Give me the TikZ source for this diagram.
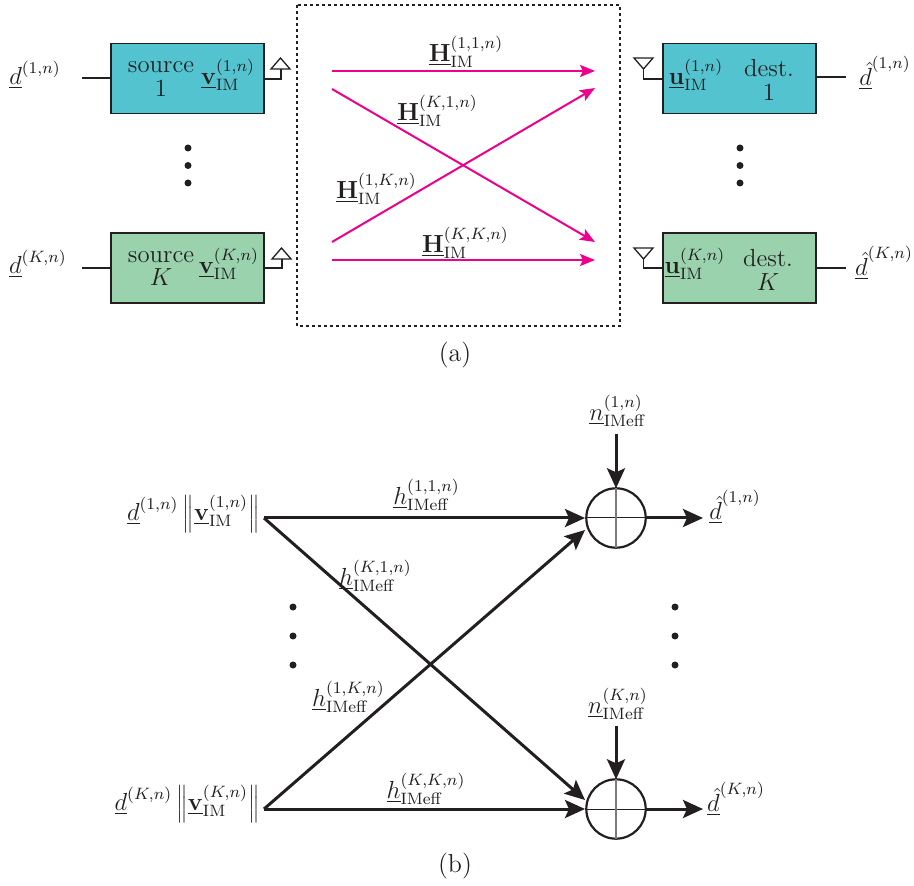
\documentclass[tikz,border=0pt,12pt]{standalone}
\usetikzlibrary{arrows.meta}
\definecolor{tealbox}{HTML}{53C4CF}
\definecolor{greenbox}{HTML}{99D2AC}
\definecolor{mag}{HTML}{EC008C}
\definecolor{ink}{HTML}{231F20}
\newcommand{\ul}[1]{\underline{#1}}
\newcommand{\bv}{\ul{\mathbf{v}}}
\newcommand{\bu}{\ul{\mathbf{u}}}
\newcommand{\bH}{\ul{\mathbf{H}}}
\newcommand{\hd}{\ul{\hat{d}}}
\tikzset{
  blockbox/.style={draw=ink,line width=0.8pt,minimum width=76.5pt,minimum height=35pt,inner sep=0,outer sep=0},
  wire/.style={draw=ink,line width=0.65pt},
  magarrow/.style={draw=mag,line width=1pt,-{Stealth[length=7.5pt,width=6pt,inset=1.5pt]}},
  bigarrow/.style={draw=ink,line width=1.5pt,-{Stealth[length=10pt,width=9pt,inset=2pt]}},
  label/.style={inner sep=0,outer sep=0,text=ink,scale=1.03},
  dotmark/.style={circle,fill=ink,inner sep=0,minimum size=3.5pt},
  adder/.style={circle,draw=ink,line width=1.1pt,minimum size=29.7pt,inner sep=0,outer sep=0}
}
\begin{document}
\begin{tikzpicture}[x=0.5pt,y=-0.5pt]
\useasboundingbox (0,0) rectangle (914,886);
% --- part (a) boxes
\node[blockbox,fill=tealbox]  (s1) at (187.5,78.5) {};
\node[blockbox,fill=greenbox] (sK) at (187.5,268) {};
\node[blockbox,fill=tealbox]  (r1) at (739.75,78.5) {};
\node[blockbox,fill=greenbox] (rK) at (739.75,268) {};
\node[label,align=center] at (161,79) {source\\[-3pt]1};
\node[label,align=center] at (161,268.5) {source\\[-3pt]$K$};
\node[label,align=center] at (769,80) {dest.\\[-3pt]1};
\node[label,align=center] at (768,270) {dest.\\[-3pt]$K$};
\node[label] at (228,75) {$\bv^{(1,n)}_{\mathrm{IM}}$};
\node[label] at (229,264) {$\bv^{(K,n)}_{\mathrm{IM}}$};
\node[label] at (696,75) {$\bu^{(1,n)}_{\mathrm{IM}}$};
\node[label] at (695,264) {$\bu^{(K,n)}_{\mathrm{IM}}$};
% --- terminals
\node[label] (d1) at (35,75) {$\ul{d}^{(1,n)}$};
\node[label] (dK) at (38,264) {$\ul{d}^{(K,n)}$};
\node[label] (e1) at (885,73) {$\hd^{(1,n)}$};
\node[label] (eK) at (884,263) {$\hd^{(K,n)}$};
\coordinate (i1) at (82,78);
\coordinate (iK) at (82,268);
\coordinate (o1) at (846,77);
\coordinate (oK) at (846,268);
\draw[wire] (i1) -- (i1 -| s1.west);
\draw[wire] (iK) -- (iK -| sK.west);
\draw[wire] (o1 -| r1.east) -- (o1);
\draw[wire] (oK -| rK.east) -- (oK);
% --- antennas
\coordinate (ta1) at (281,69);
\coordinate (taK) at (282,259);
\coordinate (ra1) at (643.5,69);
\coordinate (raK) at (643.5,259);
\draw[wire] (s1.east |- 0,79) -| (ta1);
\draw[wire] (sK.east |- 0,268) -| (taK);
\draw[wire] (r1.west |- 0,79) -| (ra1);
\draw[wire] (rK.west |- 0,268) -| (raK);
\draw[wire] (271,69) -- (280.5,58) -- (290,69) -- cycle;
\draw[wire] (272,259) -- (281.5,248) -- (291,259) -- cycle;
\draw[wire] (634,58) -- (643.5,69) -- (653,58) -- cycle;
\draw[wire] (634,248) -- (643.5,259) -- (653,248) -- cycle;
% --- dots
\foreach \x/\n in {188/a,740/b}{
  \node[dotmark] (\n1) at (\x,148) {};
  \node[dotmark] (\n2) at (\x,165.5) {};
  \node[dotmark] (\n3) at (\x,183) {};
}
% --- channel
\draw[draw=ink,line width=0.6pt,dash pattern=on 1.4pt off 1.6pt] (297,5) rectangle (620,326);
\coordinate (c11a) at (332,71);  \coordinate (c11b) at (595,71);
\coordinate (c21a) at (332,89);  \coordinate (c21b) at (595,242);
\coordinate (c12a) at (332,242); \coordinate (c12b) at (595,88);
\coordinate (c22a) at (332,260); \coordinate (c22b) at (595,260);
\draw[magarrow] (c11a) -- (c11b);
\draw[magarrow] (c21a) -- (c21b);
\draw[magarrow] (c12a) -- (c12b);
\draw[magarrow] (c22a) -- (c22b);
\node[label] at (466,52) {$\bH^{(1,1,n)}_{\mathrm{IM}}$};
\node[label] at (437.5,111) {$\bH^{(K,1,n)}_{\mathrm{IM}}$};
\node[label] at (376.5,189) {$\bH^{(1,K,n)}_{\mathrm{IM}}$};
\node[label] at (465.5,243) {$\bH^{(K,K,n)}_{\mathrm{IM}}$};
\node[label,scale=1.05] at (455,355) {(a)};
% --- part (b)
\node[label,anchor=east] (t1) at (259.5,514) {$\ul{d}^{(1,n)}\,\Big\|\bv^{(1,n)}_{\mathrm{IM}}\Big\|$};
\node[label,anchor=east] (tK) at (259.5,804) {$\ul{d}^{(K,n)}\,\Big\|\bv^{(K,n)}_{\mathrm{IM}}\Big\|$};
\coordinate (p1) at (264,518);
\coordinate (pK) at (264,809);
\node[adder] (a1) at (616,518) {};
\node[adder] (aK) at (616,809) {};
\draw[draw=ink,line width=0.5pt] (a1.west) -- (a1.east);
\draw[draw=ink!60,line width=0.7pt] (a1.north) -- (a1.south);
\draw[draw=ink,line width=0.5pt] (aK.west) -- (aK.east);
\draw[draw=ink!60,line width=0.7pt] (aK.north) -- (aK.south);
\coordinate (q11) at (585,518);
\coordinate (q12) at (585,530);
\coordinate (q21) at (585,800);
\coordinate (q22) at (585,809);
\draw[bigarrow] (p1) -- (q11);
\draw[bigarrow] (p1) -- (q21);
\draw[bigarrow] (pK) -- (q12);
\draw[bigarrow] (pK) -- (q22);
\node[label] (n1) at (618,411) {$\ul{n}^{(1,n)}_{\mathrm{IMeff}}$};
\node[label] (nK) at (618,704) {$\ul{n}^{(K,n)}_{\mathrm{IMeff}}$};
\coordinate (n1b) at (616,434);
\coordinate (nKb) at (616,726);
\draw[bigarrow] (n1b) -- (a1.north);
\draw[bigarrow] (nKb) -- (aK.north);
\node[label] (f1) at (735,507) {$\hd^{(1,n)}$};
\node[label] (fK) at (736,799) {$\hd^{(K,n)}$};
\coordinate (g1) at (703,518);
\coordinate (gK) at (703,809);
\draw[bigarrow] (a1.east) -- (g1);
\draw[bigarrow] (aK.east) -- (gK);
\node[label] at (426.5,495) {$\ul{h}^{(1,1,n)}_{\mathrm{IMeff}}$};
\node[label] at (375.5,576) {$\ul{h}^{(K,1,n)}_{\mathrm{IMeff}}$};
\node[label] at (348.5,697) {$\ul{h}^{(1,K,n)}_{\mathrm{IMeff}}$};
\node[label] at (426,789) {$\ul{h}^{(K,K,n)}_{\mathrm{IMeff}}$};
\foreach \x/\n in {293/c,675/e}{
  \node[dotmark] (\n1) at (\x,607) {};
  \node[dotmark] (\n2) at (\x,636) {};
  \node[dotmark] (\n3) at (\x,665) {};
}
\node[label,scale=1.05] at (455,866) {(b)};
\end{tikzpicture}
\end{document}
